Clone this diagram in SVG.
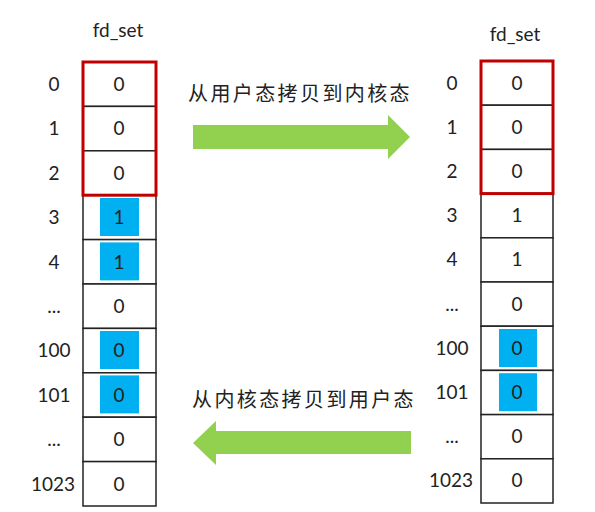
<svg xmlns="http://www.w3.org/2000/svg" width="595" height="512" viewBox="0 0 595 512">
<style>
.t{font-family:Lato,"Liberation Sans",sans-serif;font-size:19px;fill:#222;text-anchor:middle}
.cell{fill:#fff;stroke:#222;stroke-width:1.5}
.red{fill:none;stroke:#C00000;stroke-width:3}
.blue{fill:#00B0F0}
.cn{font-family:"Noto Sans CJK SC",sans-serif;font-size:20px;fill:#222;letter-spacing:2.4px}
.arrow{fill:#92D050}
</style>
<rect width="595" height="512" fill="#fff"/>
<g id="left-set">
<text class="t" x="118" y="37">fd_set</text>
<rect class="cell" x="83" y="62" width="73" height="44.4"/>
<rect class="cell" x="83" y="106.4" width="73" height="44.4"/>
<rect class="cell" x="83" y="150.8" width="73" height="44.4"/>
<rect class="cell" x="83" y="195.2" width="73" height="44.4"/>
<rect class="cell" x="83" y="239.6" width="73" height="44.4"/>
<rect class="cell" x="83" y="284" width="73" height="44.4"/>
<rect class="cell" x="83" y="328.4" width="73" height="44.4"/>
<rect class="cell" x="83" y="372.8" width="73" height="44.4"/>
<rect class="cell" x="83" y="417.2" width="73" height="44.4"/>
<rect class="cell" x="83" y="461.6" width="73" height="44.4"/>
<rect class="blue" x="100" y="198" width="39" height="38"/>
<rect class="blue" x="100" y="242.4" width="39" height="38"/>
<rect class="blue" x="100" y="331" width="39" height="38"/>
<rect class="blue" x="100" y="375.4" width="39" height="38"/>
<rect class="red" x="83" y="62" width="73" height="133.2"/>
<text class="t" x="119" y="91">0</text>
<text class="t" x="119" y="135.4">0</text>
<text class="t" x="119" y="179.8">0</text>
<text class="t" x="119" y="224.2">1</text>
<text class="t" x="119" y="268.6">1</text>
<text class="t" x="119" y="313">0</text>
<text class="t" x="119" y="357.4">0</text>
<text class="t" x="119" y="401.8">0</text>
<text class="t" x="119" y="446.2">0</text>
<text class="t" x="119" y="490.6">0</text>
<text class="t" x="54" y="91">0</text>
<text class="t" x="54" y="135.4">1</text>
<text class="t" x="54" y="179.8">2</text>
<text class="t" x="54" y="224.2">3</text>
<text class="t" x="54" y="268.6">4</text>
<text class="t" x="54" y="313">...</text>
<text class="t" x="54" y="357.4">100</text>
<text class="t" x="54" y="401.8">101</text>
<text class="t" x="54" y="446.2">...</text>
<text class="t" x="53" y="490.6">1023</text>
</g>
<g id="right-set">
<text class="t" x="515" y="41">fd_set</text>
<rect class="cell" x="481" y="61" width="72" height="44.2"/>
<rect class="cell" x="481" y="105.2" width="72" height="44.2"/>
<rect class="cell" x="481" y="149.4" width="72" height="44.2"/>
<rect class="cell" x="481" y="193.6" width="72" height="44.2"/>
<rect class="cell" x="481" y="237.8" width="72" height="44.2"/>
<rect class="cell" x="481" y="282" width="72" height="44.2"/>
<rect class="cell" x="481" y="326.2" width="72" height="44.2"/>
<rect class="cell" x="481" y="370.4" width="72" height="44.2"/>
<rect class="cell" x="481" y="414.6" width="72" height="44.2"/>
<rect class="cell" x="481" y="458.8" width="72" height="44.2"/>
<rect class="blue" x="499" y="329" width="38" height="38"/>
<rect class="blue" x="499" y="373.2" width="38" height="38"/>
<rect class="red" x="481" y="61" width="72" height="132.6"/>
<text class="t" x="517" y="89.6">0</text>
<text class="t" x="517" y="133.8">0</text>
<text class="t" x="517" y="178">0</text>
<text class="t" x="517" y="222.2">1</text>
<text class="t" x="517" y="266.4">1</text>
<text class="t" x="517" y="310.6">0</text>
<text class="t" x="517" y="354.8">0</text>
<text class="t" x="517" y="399">0</text>
<text class="t" x="517" y="443.2">0</text>
<text class="t" x="517" y="487.4">0</text>
<text class="t" x="452" y="89.6">0</text>
<text class="t" x="452" y="133.8">1</text>
<text class="t" x="452" y="178">2</text>
<text class="t" x="452" y="222.2">3</text>
<text class="t" x="452" y="266.4">4</text>
<text class="t" x="452" y="310.6">...</text>
<text class="t" x="452" y="354.8">100</text>
<text class="t" x="452" y="399">101</text>
<text class="t" x="452" y="443.2">...</text>
<text class="t" x="451" y="487.4">1023</text>
</g>
<g id="connectors">
<polygon class="arrow" points="193,125 388,125 388,115 410,137 388,159 388,149 193,149"/>
<text class="cn" x="188" y="101">从用户态拷贝到内核态</text>
<polygon class="arrow" points="411,431 216,431 216,421 193,443 216,465 216,454 411,454"/>
<text class="cn" x="192" y="407">从内核态拷贝到用户态</text>
</g>
</svg>
